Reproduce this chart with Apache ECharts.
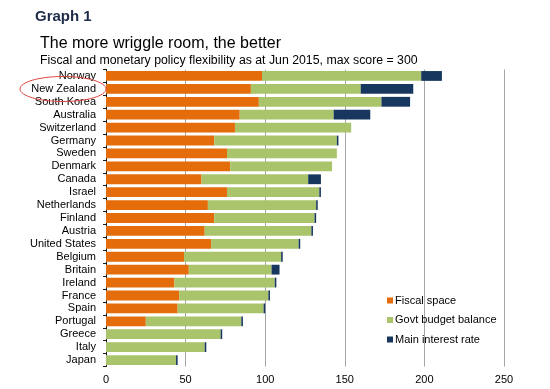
<!DOCTYPE html>
<html><head><meta charset="utf-8">
<script src="https://cdn.jsdelivr.net/npm/echarts@6/dist/echarts.min.js"></script>
<style>html,body{margin:0;padding:0;background:#fff}#c{width:550px;height:389px}</style>
</head><body><div id="c"></div>
<script>
var countries = ["Norway","New Zealand","South Korea","Australia","Switzerland","Germany","Sweden","Denmark","Canada","Israel","Netherlands","Finland","Austria","United States","Belgium","Britain","Ireland","France","Spain","Portugal","Greece","Italy","Japan"];
var fiscalSpace = [98,91,96,84,81,68,76,78,60,76,64,68,62,66,49,52,43,46,45,25,0,0,0];
var govtBudget = [100,69,77,59,73,77,69,64,67,58,68,63,67,55,61,52,63,56,54,60,72,62,44];
var interestRate = [13,33,18,23,0,1,0,0,8,1,1,1,1,1,1,5,1,1,1,1,1,1,1];
var xTicks = [0,50,100,150,200,250];

var chart = echarts.init(document.getElementById('c'));
var lf = 'Liberation Sans, Arial, sans-serif';
chart.setOption({
  animation:false,
  textStyle:{fontFamily:lf},
  title:[
    {text:'Graph 1',left:30,top:4,textStyle:{fontFamily:'Liberation Sans Narrow, Liberation Sans, Arial',fontWeight:'bold',fontSize:15,color:'#1c2b48'}},
    {text:'The more wriggle room, the better',left:35,top:31,textStyle:{fontFamily:lf,fontWeight:'normal',fontSize:16,color:'#000'}},
    {text:'Fiscal and monetary policy flexibility as at Jun 2015, max score = 300',left:35,top:50,textStyle:{fontFamily:lf,fontWeight:'normal',fontSize:12.3,color:'#000'}}
  ],
  legend:{orient:'vertical',left:382,top:290,itemWidth:6,itemHeight:6,itemGap:8.5,icon:'rect',
    textStyle:{fontSize:11,color:'#000',fontFamily:lf,padding:[0,0,0,-3]},
    data:['Fiscal space','Govt budget balance','Main interest rate']},
  grid:{left:106,right:46,top:69.5,bottom:22.5,containLabel:false},
  xAxis:{type:'value',min:0,max:250,interval:50,
    axisLine:{show:false},axisTick:{show:false},
    axisLabel:{fontSize:11,color:'#000',margin:8,formatter:function(v){return xTicks.indexOf(v)>=0?String(v):'';}},
    splitLine:{show:true,lineStyle:{color:'#a6a6a6',width:1}}},
  yAxis:{type:'category',data:countries,inverse:true,
    axisLine:{show:true,lineStyle:{color:'#1a1a1a',width:1}},
    axisTick:{show:true,length:3,inside:false,lineStyle:{color:'#1a1a1a'}},
    axisLabel:{fontSize:11,color:'#000',margin:10,interval:0}},
  series:[
    {name:'Fiscal space',type:'bar',stack:'s',data:fiscalSpace,barCategoryGap:'24%',itemStyle:{color:'#e46c0a'}},
    {name:'Govt budget balance',type:'bar',stack:'s',data:govtBudget,itemStyle:{color:'#a9c46b'}},
    {name:'Main interest rate',type:'bar',stack:'s',data:interestRate,itemStyle:{color:'#17375e'}}
  ],
  graphic:[{type:'ellipse',shape:{cx:63,cy:89,rx:43,ry:12.5},style:{fill:'none',stroke:'#e0443e',lineWidth:1},z:100}]
});
</script></body></html>
